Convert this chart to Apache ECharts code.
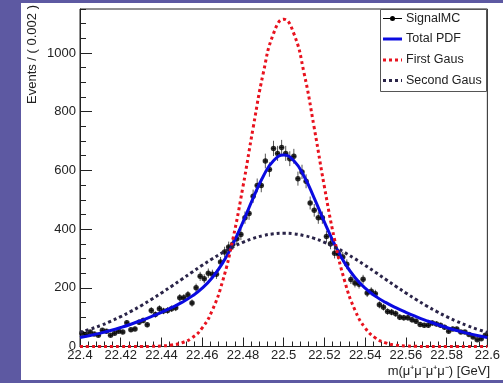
<!DOCTYPE html>
<html><head><meta charset="utf-8">
<script src="https://cdn.jsdelivr.net/npm/echarts@6/dist/echarts.min.js"></script>
<style>
html,body{margin:0;padding:0;background:#5d59a2;overflow:hidden;}
#panel{position:absolute;left:21px;top:3px;width:482px;height:377px;background:#fff;}
#chart{position:absolute;left:0;top:0;width:503px;height:383px;}
</style></head><body>
<div id="panel"></div><div id="chart"></div>
<script>
// ---- data ----
const binStart = 22.4;
const binWidth = 0.002;
const counts = [
  45,41,49,43,38,55,52,38,45,52,
  49,81,57,60,83,89,74,123,109,129,
  121,123,129,132,166,166,176,148,200,239,
  231,250,246,246,288,322,339,348,367,382,
  439,453,512,549,549,632,603,675,658,678,
  658,640,648,572,595,563,489,464,439,439,
  375,350,318,314,305,280,228,216,212,229,
  182,188,180,142,134,119,117,112,100,98,
  98,91,86,75,72,72,80,77,72,66,
  52,60,60,49,49,41,32,23,26,38
];
const curveStart = 22.4;
const curveStep = 0.005;
const totalPdf = [30.5,37.4,45.4,54.4,64.6,75.9,88.4,101.9,116.5,132.4,150.2,171.6,198.7,235.2,284.2,348.1,424.1,505.8,580.2,632.9,652.1,
                  632.9,580.2,505.8,424.1,348.1,284.2,235.2,198.7,171.6,150.2,132.4,116.5,101.9,88.4,75.9,64.6,54.4,45.4,37.4,30.5];
const firstGaus = [0,0,0,0,0,0.1,0.2,0.6,1.8,4.9,12.6,29.5,63.3,124,222,364,544,745,932,1066,1115,
                   1066,932,745,544,364,222,124,63.3,29.5,12.6,4.9,1.8,0.6,0.2,0.1,0,0,0,0,0];
const secondGaus = [48.1,58.9,71.5,85.7,101.8,119.6,139.1,160.1,182.4,205.6,229.3,253.2,276.6,299.1,320.0,338.9,355.1,368.3,378.0,384.0,386,
                    384.0,378.0,368.3,355.1,338.9,320.0,299.1,276.6,253.2,229.3,205.6,182.4,160.1,139.1,119.6,101.8,85.7,71.5,58.9,48.1];
const xMin = 22.4, xMax = 22.6, xMajor = 0.02;
const yMin = 0, yMax = 1150, yMajor = 200, yMinor = 50;
const legendNames = ['SignalMC', 'Total PDF', 'First Gaus', 'Second Gaus'];
const yTitle = 'Events / ( 0.002 )';
const xTitle = 'm(\u03bc\u207a\u03bc\u207b\u03bc\u207a\u03bc\u207b) [GeV]';

// ---- build ----
const FONT = "'Liberation Sans', Arial, Helvetica, sans-serif";
const binCenters = counts.map((c, i) => +(binStart + binWidth * (i + 0.5)).toFixed(4));
const pointData = counts.map((c, i) => [binCenters[i], c]);
const errData = counts.map((c, i) => [binCenters[i], c, Math.sqrt(c)]);
const curveX = totalPdf.map((v, i) => +(curveStart + curveStep * i).toFixed(4));
const mk = arr => arr.map((v, i) => [curveX[i], v]);

const chart = echarts.init(document.getElementById('chart'), null, {renderer: 'canvas'});
const axisCol = '#222';
const LF = '12.5px ' + FONT;
const option = {
  backgroundColor: 'transparent',
  animation: false,
  textStyle: {fontFamily: FONT},
  grid: {left: 80, right: 13, top: 9, bottom: 36.5, show: true, borderColor: axisCol, borderWidth: 1, backgroundColor: 'transparent'},
  xAxis: {
    type: 'value', min: xMin, max: xMax, interval: xMajor,
    axisLine: {show: true, lineStyle: {color: axisCol, width: 1}},
    axisTick: {show: true, inside: true, length: 9, lineStyle: {color: axisCol}},
    minorTick: {show: true, splitNumber: 5, length: 5, lineStyle: {color: axisCol}},
    splitLine: {show: false},
    axisLabel: {color: '#222', fontSize: 13, fontFamily: FONT, margin: 2,
      formatter: v => String(parseFloat(v.toFixed(4)))}
  },
  yAxis: [{
    type: 'value', min: yMin, max: yMax, interval: yMajor, position: 'left',
    axisLine: {show: true, lineStyle: {color: axisCol, width: 1}},
    axisTick: {show: true, inside: true, length: 12, lineStyle: {color: axisCol}},
    splitLine: {show: false},
    axisLabel: {color: '#222', fontSize: 13, fontFamily: FONT, margin: 4, showMaxLabel: false,
      formatter: v => (v % yMajor === 0 ? String(v) : '')}
  }, {
    type: 'value', min: yMin, max: yMax, interval: yMinor, position: 'left', offset: 0,
    axisLine: {show: false}, axisLabel: {show: false}, splitLine: {show: false},
    axisTick: {show: true, inside: true, length: 6, lineStyle: {color: axisCol}}
  }],
  series: [
    {
      name: legendNames[0] + ' errors', type: 'custom', z: 2,
      renderItem: (params, api) => {
        const x = api.value(0), y = api.value(1), e = api.value(2);
        const p0 = api.coord([x, y - e]), p1 = api.coord([x, y + e]);
        const l = api.coord([x - binWidth / 2, y]), r = api.coord([x + binWidth / 2, y]);
        return {type: 'group', children: [
          {type: 'line', shape: {x1: p0[0], y1: p0[1], x2: p1[0], y2: p1[1]}, style: {stroke: '#555', lineWidth: 1}},
          {type: 'line', shape: {x1: l[0], y1: l[1], x2: r[0], y2: r[1]}, style: {stroke: '#333', lineWidth: 1}}
        ]};
      },
      encode: {x: 0, y: 1},
      data: errData
    },
    {name: legendNames[0], type: 'scatter', z: 3, symbol: 'circle', symbolSize: 5.5,
      itemStyle: {color: '#000'}, data: pointData},
    {name: legendNames[1], type: 'line', z: 4, smooth: true, showSymbol: false, symbol: 'none',
      lineStyle: {color: '#0a0ae0', width: 3}, data: mk(totalPdf)},
    {name: legendNames[2], type: 'line', z: 5, smooth: true, showSymbol: false, symbol: 'none',
      lineStyle: {color: '#e8121e', width: 3, type: [3, 3]}, data: mk(firstGaus)},
    {name: legendNames[3], type: 'line', z: 6, smooth: true, showSymbol: false, symbol: 'none',
      lineStyle: {color: '#2a2448', width: 3, type: [3, 3]}, data: mk(secondGaus)}
  ],
  graphic: [
    {type: 'text', x: 32, y: 5, rotation: Math.PI / 2, z: 10,
      style: {text: yTitle, font: '13px ' + FONT, fill: '#222', align: 'right', verticalAlign: 'middle'}},
    {type: 'text', x: 490, y: 371, z: 10,
      style: {text: xTitle, font: '13px ' + FONT, fill: '#222', align: 'right', verticalAlign: 'middle'}},
    {type: 'rect', shape: {x: 380.5, y: 9.5, width: 106, height: 82}, z: 20,
      style: {fill: '#fff', stroke: '#555', lineWidth: 1}},
    {type: 'line', shape: {x1: 383, y1: 18.5, x2: 402, y2: 18.5}, z: 21, style: {stroke: '#000', lineWidth: 1}},
    {type: 'circle', shape: {cx: 392.5, cy: 18.5, r: 2.5}, z: 21, style: {fill: '#000'}},
    {type: 'line', shape: {x1: 383, y1: 39, x2: 402, y2: 39}, z: 21, style: {stroke: '#0a0ae0', lineWidth: 3}},
    {type: 'line', shape: {x1: 383, y1: 60, x2: 402, y2: 60}, z: 21, style: {stroke: '#e8121e', lineWidth: 3, lineDash: [3, 3]}},
    {type: 'line', shape: {x1: 383, y1: 80.5, x2: 402, y2: 80.5}, z: 21, style: {stroke: '#2a2448', lineWidth: 3, lineDash: [3, 3]}},
    {type: 'text', x: 406, y: 18.5, z: 21, style: {text: legendNames[0], font: LF, fill: '#222', verticalAlign: 'middle'}},
    {type: 'text', x: 406, y: 39, z: 21, style: {text: legendNames[1], font: LF, fill: '#222', verticalAlign: 'middle'}},
    {type: 'text', x: 406, y: 60, z: 21, style: {text: legendNames[2], font: LF, fill: '#222', verticalAlign: 'middle'}},
    {type: 'text', x: 406, y: 80.5, z: 21, style: {text: legendNames[3], font: LF, fill: '#222', verticalAlign: 'middle'}}
  ]
};
chart.setOption(option);
</script>
</body></html>
